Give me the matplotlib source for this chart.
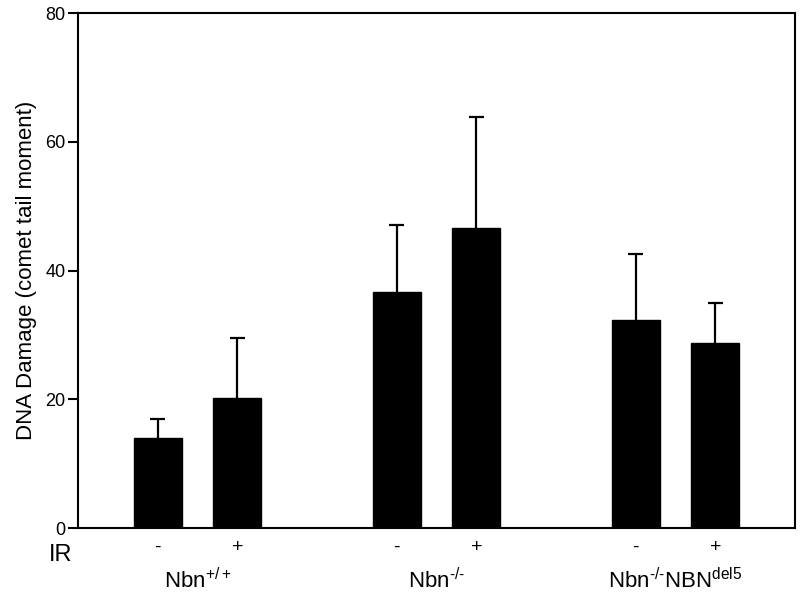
import matplotlib
matplotlib.use("Agg")
import matplotlib.pyplot as plt
import numpy as np

groups = ["Nbn$^{+/+}$", "Nbn$^{\\text{-/-}}$", "Nbn$^{\\text{-/-}}$NBN$^{\\text{del5}}$"]
ir_labels = ["-", "+", "-", "+", "-", "+"]
means = [14.0, 20.2, 36.6, 46.6, 32.3, 28.7]
errors = [2.9, 9.3, 10.5, 17.3, 10.2, 6.3]
yticks = [0, 20, 40, 60, 80]

plt.rcParams['font.family'] = ['Liberation Sans', 'DejaVu Sans']
plt.rcParams['mathtext.fontset'] = 'custom'
plt.rcParams['mathtext.rm'] = 'Liberation Sans'
plt.rcParams['mathtext.it'] = 'Liberation Sans'
plt.rcParams['mathtext.default'] = 'regular'

fig = plt.figure(figsize=(8, 5.93), dpi=100)
ax = fig.add_axes([0.0975, 0.1096, 0.8963, 0.8684])

pos = np.array([0, 1, 3, 4, 6, 7], dtype=float)
means_a = np.array(means)
errors_a = np.array(errors)
ax.bar(pos, means_a, width=0.6, color='black', edgecolor='black', zorder=2)
cap = 0.095
ax.vlines(pos, means_a, means_a + errors_a, color='black', linewidth=1.6, zorder=1)
ax.hlines(means_a + errors_a, pos - cap, pos + cap, color='black', linewidth=1.6, zorder=1)

ax.set_xlim(-1, 8)
ax.set_ylim(0, 80)
ax.set_yticks(yticks)
ax.tick_params(axis='y', labelsize=13, length=7, width=1.5, pad=2, direction='out')
ax.set_xticks(pos)
ax.set_xticklabels(ir_labels, fontsize=14)
ax.tick_params(axis='x', length=0, pad=8)
for s in ax.spines.values():
    s.set_linewidth(1.5)

ax.set_ylabel("DNA Damage (comet tail moment)", fontsize=16, labelpad=6)

trans = ax.get_xaxis_transform()
ax.text(-1.07, -0.064, "IR", transform=trans, fontsize=17, ha='right', va='baseline')
for i, g in enumerate(groups):
    cx = (pos[2 * i] + pos[2 * i + 1]) / 2
    ax.text(cx, -0.1165, g, transform=trans, fontsize=16, ha='center', va='baseline')

fig.savefig("out.png", dpi=100)
